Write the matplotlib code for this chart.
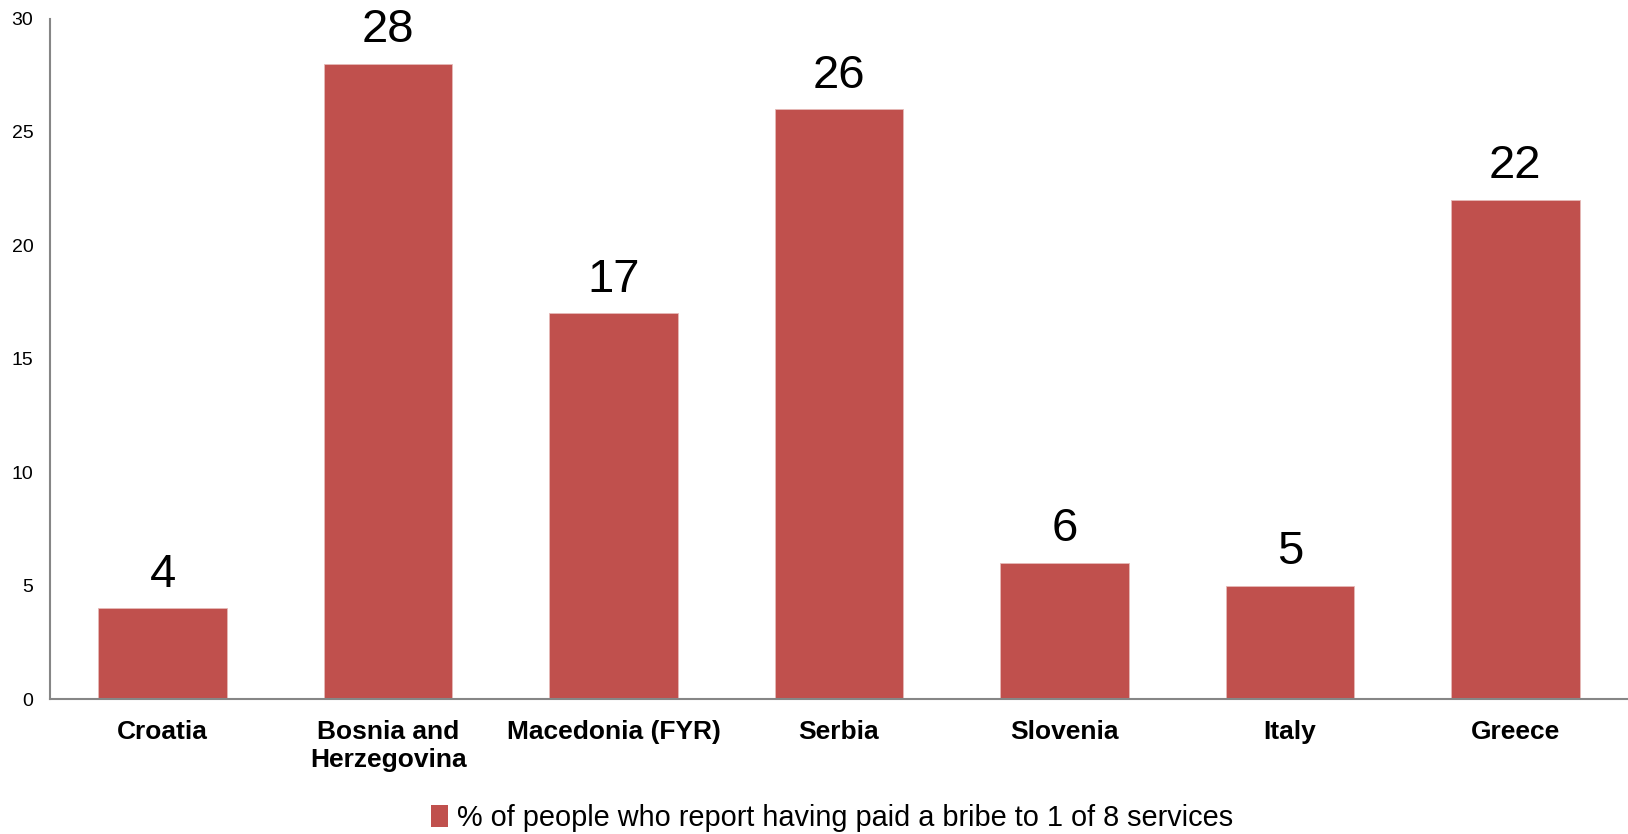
import matplotlib
matplotlib.use('Agg')
import matplotlib.pyplot as plt
from matplotlib.patches import Patch

# bar colour and axis grey as seen in the source chart
BAR_RED = '#C0504D'
AXIS_GREY = '#868686'

countries = ['Croatia', 'Bosnia and\nHerzegovina', 'Macedonia (FYR)', 'Serbia',
             'Slovenia', 'Italy', 'Greece']
bribe_pct = [4, 28, 17, 26, 6, 5, 22]
y_ticks = [0, 5, 10, 15, 20, 25, 30]
series_name = '% of people who report having paid a bribe to 1 of 8 services'

plt.rcParams['font.family'] = ['Liberation Sans', 'DejaVu Sans']

fig = plt.figure(figsize=(16.28, 8.34), dpi=100)
ax = fig.add_axes([50 / 1628, 1 - 699 / 834, 1578 / 1628, (699 - 18.5) / 834])

x = list(range(len(countries)))
bars = ax.bar(x, bribe_pct, width=0.57, color=BAR_RED, edgecolor='#E6B9B8', linewidth=0.6)

for xi, v in zip(x, bribe_pct):
    ax.annotate(str(v), (xi, v), xytext=(0, 15.5), textcoords='offset points',
                ha='center', va='baseline', fontsize=34, color='black',
                annotation_clip=False)

ax.set_xlim(-0.5, len(countries) - 0.5)
ax.set_ylim(0, 30)
ax.set_yticks(y_ticks)
ax.tick_params(axis='y', length=0, pad=12, labelsize=14, labelcolor='black')
ax.set_xticks(x)
ax.set_xticklabels(countries, fontweight='bold', fontsize=19, linespacing=1.22)
ax.tick_params(axis='x', length=0, pad=15)

for side in ('top', 'right'):
    ax.spines[side].set_visible(False)
for side in ('left', 'bottom'):
    ax.spines[side].set_color(AXIS_GREY)
    ax.spines[side].set_linewidth(1.5)

fig.legend(handles=[Patch(facecolor=BAR_RED, edgecolor='none')], labels=[series_name],
           loc='center', bbox_to_anchor=(0.511, 1 - 818 / 834), frameon=False,
           fontsize=20.8, handlelength=0.6, handleheight=0.8, handletextpad=0.3)

fig.savefig('out.png', dpi=100, facecolor='white')
